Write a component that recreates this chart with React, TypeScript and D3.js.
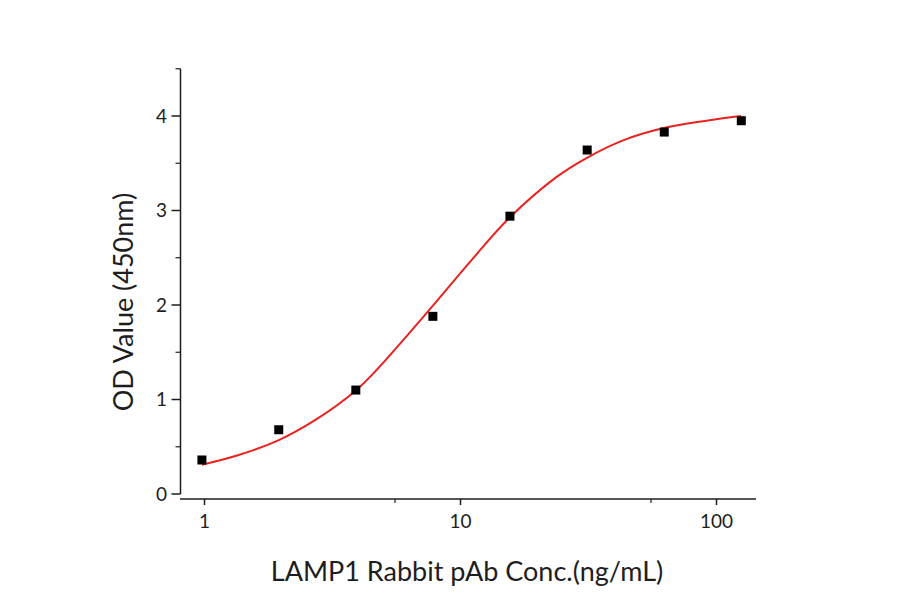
import * as React from 'react';
import * as d3 from 'd3';

// measured points (ng/mL vs OD450)
const concentrations = [0.977, 1.95, 3.9, 7.8, 15.6, 31.25, 62.5, 125];
const odValues = [0.36, 0.68, 1.10, 1.88, 2.94, 3.64, 3.83, 3.95];

// fitted curve
const fitConc = [0.977, 1.35, 1.95, 2.77, 3.88, 4.69, 7.73, 11.0, 15.5, 23.6, 30.8, 42.9, 61.7, 91.2, 125];
const fitOd = [0.31, 0.41, 0.57, 0.80, 1.09, 1.31, 1.98, 2.47, 2.92, 3.35, 3.55, 3.74, 3.87, 3.95, 4.0];

const yTicks = [0, 1, 2, 3, 4];
const yMinorTicks = [0.5, 1.5, 2.5, 3.5, 4.5];
const xTicks = [1, 10, 100];
const xMinorTicks = [5.55, 55.5];

const FONT = "Lato, 'Open Sans', sans-serif";
const INK = "#1e1e1e";

const App = () => {
    const ref = React.useRef<SVGSVGElement>(null);

    React.useEffect(() => {
        const svg = d3.select(ref.current);
        svg.selectAll("*").remove();

        const x = d3.scaleLog().domain([1, 100]).range([204.5, 716.5]);
        const y = d3.scaleLinear().domain([0, 4]).range([494, 116]);
        const xAxisY = 499;
        const yAxisX = 180.5;

        // y axis
        svg.append("line")
            .attr("x1", yAxisX).attr("x2", yAxisX)
            .attr("y1", y(4.5)).attr("y2", y(0))
            .attr("stroke", INK).attr("stroke-width", 1.5);
        svg.selectAll(".ytick")
            .data(yTicks)
            .enter()
            .append("line")
            .attr("x1", yAxisX - 9).attr("x2", yAxisX)
            .attr("y1", d => y(d)).attr("y2", d => y(d))
            .attr("stroke", INK).attr("stroke-width", 1.5);
        svg.selectAll(".yminor")
            .data(yMinorTicks)
            .enter()
            .append("line")
            .attr("x1", yAxisX - 5).attr("x2", yAxisX)
            .attr("y1", d => y(d)).attr("y2", d => y(d))
            .attr("stroke", INK).attr("stroke-width", 1.2);
        svg.selectAll(".ylabel")
            .data(yTicks)
            .enter()
            .append("text")
            .attr("x", 167)
            .attr("y", d => y(d) + 6.5)
            .attr("text-anchor", "end")
            .style("font-family", FONT)
            .style("font-size", "19px")
            .attr("fill", INK)
            .text(d => d);

        // x axis
        svg.append("line")
            .attr("x1", 180).attr("x2", 756)
            .attr("y1", xAxisY).attr("y2", xAxisY)
            .attr("stroke", INK).attr("stroke-width", 1.5);
        svg.selectAll(".xtick")
            .data(xTicks)
            .enter()
            .append("line")
            .attr("x1", d => x(d)).attr("x2", d => x(d))
            .attr("y1", xAxisY).attr("y2", xAxisY + 6)
            .attr("stroke", INK).attr("stroke-width", 1.5);
        svg.selectAll(".xminor")
            .data(xMinorTicks)
            .enter()
            .append("line")
            .attr("x1", d => x(d)).attr("x2", d => x(d))
            .attr("y1", xAxisY).attr("y2", xAxisY + 4)
            .attr("stroke", INK).attr("stroke-width", 1.2);
        svg.selectAll(".xlabel")
            .data(xTicks)
            .enter()
            .append("text")
            .attr("x", d => x(d))
            .attr("y", 528)
            .attr("text-anchor", "middle")
            .style("font-family", FONT)
            .style("font-size", "19px")
            .attr("fill", INK)
            .text(d => d);

        // axis titles
        svg.append("text")
            .attr("x", 467).attr("y", 581)
            .attr("text-anchor", "middle")
            .style("font-family", FONT)
            .style("font-size", "27px")
            .attr("fill", INK)
            .text("LAMP1 Rabbit pAb Conc.(ng/mL)");
        svg.append("text")
            .attr("transform", "translate(133,302) rotate(-90)")
            .attr("text-anchor", "middle")
            .style("font-family", FONT)
            .style("font-size", "27px")
            .attr("fill", INK)
            .text("OD Value (450nm)");

        // fit line
        const line = d3.line<number>()
            .x((d, i) => x(fitConc[i]))
            .y(d => y(d))
            .curve(d3.curveCatmullRom.alpha(0.5));
        svg.append("path")
            .attr("d", line(fitOd))
            .attr("fill", "none")
            .attr("stroke", "#e8231f")
            .attr("stroke-width", 2);

        // points
        svg.selectAll(".pt")
            .data(odValues)
            .enter()
            .append("rect")
            .attr("x", (d, i) => x(concentrations[i]) - 4.5)
            .attr("y", d => y(d) - 4.5)
            .attr("width", 9)
            .attr("height", 9)
            .attr("fill", "#000");
    }, []);

    return (
        <svg ref={ref} width={900} height={594}
             style={{position: "absolute", left: 0, top: 0, background: "#fff"}} />
    );
};

export default App;
